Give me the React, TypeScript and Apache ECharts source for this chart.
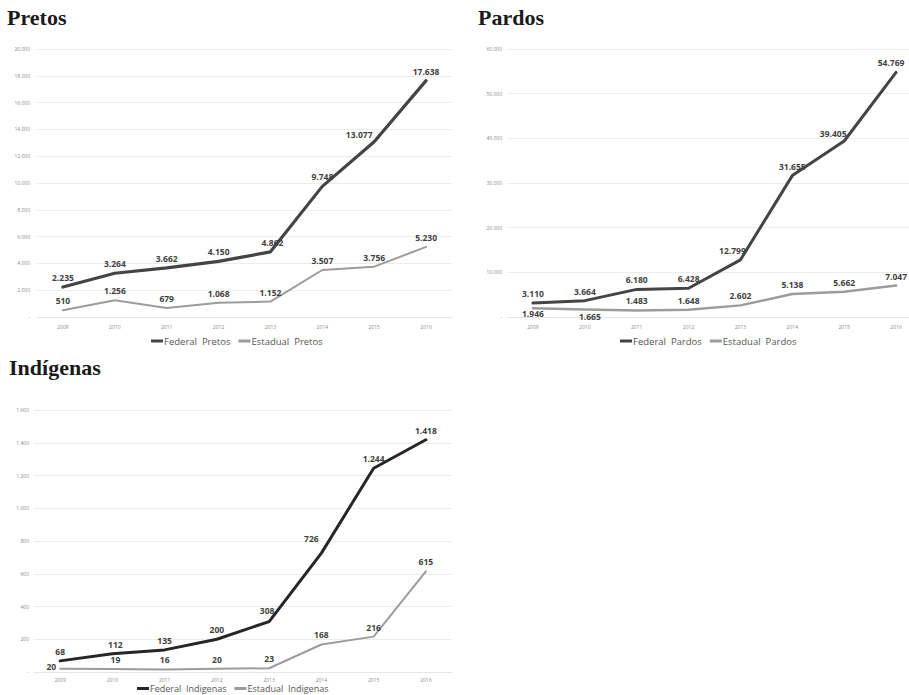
import React, { useEffect, useRef } from "react";
import * as echarts from "echarts";

// Vagas por ano, rede federal x rede estadual
const years = ["2009", "2010", "2011", "2012", "2013", "2014", "2015", "2016"];

const federalPretos = [2235, 3264, 3662, 4150, 4862, 9748, 13077, 17638];
const estadualPretos = [510, 1256, 679, 1068, 1152, 3507, 3756, 5230];

const federalPardos = [3110, 3664, 6180, 6428, 12799, 31655, 39405, 54769];
const estadualPardos = [1946, 1665, 1483, 1648, 2602, 5138, 5662, 7047];

const federalIndigenas = [68, 112, 135, 200, 308, 726, 1244, 1418];
const estadualIndigenas = [20, 19, 16, 20, 23, 168, 216, 615];

const panelTitles = ["Pretos", "Pardos", "Indígenas"];

// thousands separated with a dot, zero drawn as a dash
function fmt(v: number): string {
  if (v === 0) return "-";
  const s = String(Math.round(v));
  return s.replace(/\B(?=(\d{3})+(?!\d))/g, ".");
}

const DARK = "#444444";
const DARKER = "#262626";
const LIGHT = "#9c9c9c";
const LABEL_COLOR = "#3f3f3f";
const SANS = "'Open Sans', 'Liberation Sans', sans-serif";

type LabelTweak = { position?: string; offset?: [number, number]; distance?: number };

function withLabels(values: number[], tweaks: Record<number, LabelTweak>) {
  return values.map((v, i) => {
    const t = tweaks[i];
    if (!t) return v;
    return { value: v, label: { show: true, position: "top", distance: 5, ...t } };
  });
}

function lineSeries(
  name: string,
  values: number[],
  idx: number,
  color: string,
  width: number,
  tweaks: Record<number, LabelTweak>
) {
  return {
    name,
    type: "line",
    xAxisIndex: idx,
    yAxisIndex: idx,
    data: withLabels(values, tweaks),
    showSymbol: true,
    symbol: "circle",
    symbolSize: 0,
    lineStyle: { color, width, cap: "round", join: "round" },
    itemStyle: { color },
    label: {
      show: true,
      position: "top",
      distance: 5,
      formatter: (p: any) => fmt(p.value),
      color: LABEL_COLOR,
      fontFamily: SANS,
      fontWeight: "bold",
      fontSize: 8.5,
    },
    emphasis: { disabled: true },
  };
}

function yAxis(idx: number, max: number, interval: number, margin: number) {
  return {
    type: "value",
    gridIndex: idx,
    min: 0,
    max,
    interval,
    axisLine: { show: false },
    axisTick: { show: false },
    axisLabel: {
      formatter: (v: number) => fmt(v),
      fontSize: 5,
      color: "#8a8a8a",
      fontFamily: SANS,
      margin,
    },
    splitLine: { lineStyle: { color: "#ececec", width: 1 } },
  };
}

function xAxis(idx: number, margin: number) {
  return {
    type: "category",
    gridIndex: idx,
    data: years,
    boundaryGap: true,
    axisLine: { show: true, lineStyle: { color: "#e6e6e6", width: 1 } },
    axisTick: { show: false },
    axisLabel: { fontSize: 5, color: "#8a8a8a", fontFamily: SANS, margin },
  };
}

function legend(names: string[], left: number, top: number, fontSize: number) {
  return {
    left,
    top,
    padding: 0,
    data: names.map((n) => ({ name: n, icon: "rect" })),
    itemWidth: 12,
    itemHeight: 3,
    itemGap: 8,
    selectedMode: false,
    textStyle: { fontFamily: SANS, fontSize, color: "#555555", padding: [0, 0, 0, -4] },
  };
}

export default function App() {
  const ref = useRef<HTMLDivElement>(null);

  useEffect(() => {
    if (!ref.current) return;
    const chart = echarts.init(ref.current, null, { renderer: "svg" });

    const titleStyle = {
      fontFamily: "'Liberation Serif', 'Times New Roman', serif",
      fontWeight: "bold",
      fontSize: 22,
      color: "#1a1a1a",
    };

    chart.setOption({
      animation: false,
      backgroundColor: "#ffffff",
      title: [
        { text: panelTitles[0], left: 7, top: 6, textStyle: titleStyle, padding: 0 },
        { text: panelTitles[1], left: 478, top: 6, textStyle: titleStyle, padding: 0 },
        { text: panelTitles[2], left: 9, top: 356, textStyle: titleStyle, padding: 0 },
      ],
      grid: [
        { left: 37, width: 415, top: 49, height: 268 },
        // the right panel runs a little past the visible edge
        { left: 507, width: 415, top: 49, height: 268 },
        { left: 34, width: 418, top: 410, height: 262 },
      ],
      xAxis: [xAxis(0, 7), xAxis(1, 7), xAxis(2, 5)],
      yAxis: [yAxis(0, 20000, 2000, 7), yAxis(1, 60000, 10000, 5), yAxis(2, 1600, 200, 5)],
      legend: [
        legend(["Federal  Pretos", "Estadual  Pretos"], 151, 336, 9.5),
        legend(["Federal  Pardos", "Estadual  Pardos"], 620, 336, 9.5),
        legend(["Federal  Indigenas", "Estadual  Indigenas"], 137, 684, 9),
      ],
      series: [
        lineSeries("Federal  Pretos", federalPretos, 0, DARK, 3.2, {
          4: { offset: [2, 0] },
          6: { offset: [-15, 2] },
        }),
        lineSeries("Estadual  Pretos", estadualPretos, 0, LIGHT, 2, {}),
        lineSeries("Federal  Pardos", federalPardos, 1, DARK, 3, {
          4: { offset: [-8, 0] },
          6: { offset: [-11, 2] },
          7: { offset: [-5, 0] },
        }),
        lineSeries("Estadual  Pardos", estadualPardos, 1, LIGHT, 2.5, {
          0: { position: "bottom", distance: 1 },
          1: { position: "bottom", distance: 2, offset: [5, 0] },
        }),
        lineSeries("Federal  Indigenas", federalIndigenas, 2, DARKER, 3, {
          1: { offset: [3, 0] },
          4: { offset: [-2, -2] },
          5: { offset: [-10, -5] },
        }),
        lineSeries("Estadual  Indigenas", estadualIndigenas, 2, LIGHT, 2, {
          0: { position: "left", distance: 4, offset: [0, -2] },
          1: { offset: [3, 0] },
        }),
      ],
    });

    return () => chart.dispose();
  }, []);

  return (
    <div style={{ position: "fixed", left: 0, top: 0, width: 909, height: 695, overflow: "hidden", background: "#fff" }}>
      <div ref={ref} style={{ width: 925, height: 695 }} />
    </div>
  );
}
